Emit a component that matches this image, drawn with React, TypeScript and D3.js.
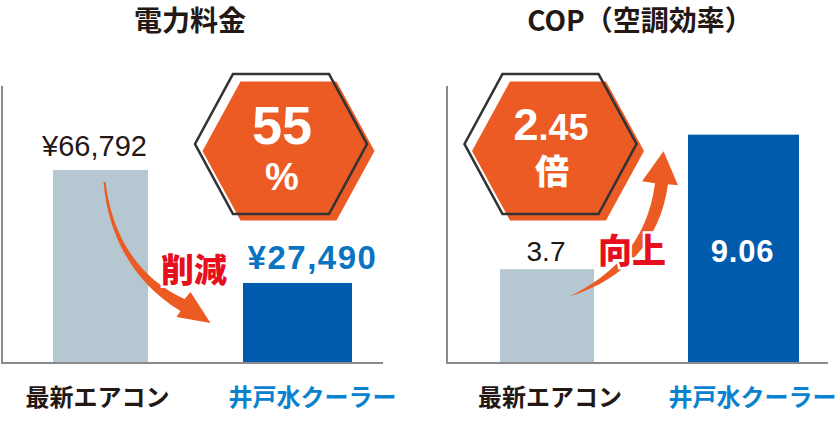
import React from "react";
import * as d3 from "d3";

// ---- data ----
const panelTitles = ["電力料金", "COP（空調効率）"];
const categories = ["最新エアコン", "井戸水クーラー"];
const costValues = [66792, 27490];
const costLabels = ["¥66,792", "¥27,490"];
const copValues = [3.7, 9.06];
const copLabels = ["3.7", "9.06"];
const badgeMain = ["55", "2.45"];
const badgeSub = ["%", "倍"];
const arrowLabels = ["削減", "向上"];

// ---- style ----
const W = 840;
const H = 432;
const BASE_Y = 362;
const TOP_Y = 86;
const GRAY = "#b5c7d0";
const BLUE = "#005bac";
const ORANGE = "#ec5b24";
const RED = "#e50f1e";
const LABEL_BLUE = "#0a82cf";
const VALUE_BLUE = "#0a74c1";
const INK = "#231815";
const NUM_FONT = "'Liberation Sans', Arial, Helvetica, sans-serif";
const JP_FONT = "'Noto Sans CJK JP', 'Noto Sans', sans-serif";

type Panel = {
  title: string;
  titleX: number;
  axisX0: number;
  axisX1: number;
  centers: [number, number];
  yMax: number;
  values: number[];
  labels: string[];
  barWidths: number[];
  catDx: number[];
};

const panels: Panel[] = [
  {
    title: panelTitles[0],
    titleX: 190,
    axisX0: 2,
    axisX1: 383,
    centers: [100.5, 297.5],
    yMax: 96000,
    values: costValues,
    labels: costLabels,
    barWidths: [95, 109],
    catDx: [-3, 15],
  },
  {
    title: panelTitles[1],
    titleX: 640,
    axisX0: 447,
    axisX1: 828,
    centers: [547, 743.5],
    yMax: 11,
    values: copValues,
    labels: copLabels,
    barWidths: [94, 111],
    catDx: [3, 9],
  },
];

function hexPath(cx: number, cy: number, hw: number, hh: number, top: number) {
  const pts: [number, number][] = [
    [cx - hw, cy],
    [cx - top, cy - hh],
    [cx + top, cy - hh],
    [cx + hw, cy],
    [cx + top, cy + hh],
    [cx - top, cy + hh],
  ];
  return d3.line()(pts.concat([pts[0]])) + "Z";
}

function Badge({ cx, cy, children }: { cx: number; cy: number; children: React.ReactNode }) {
  return (
    <g>
      <path d={hexPath(cx + 7.5, cy + 7, 86, 69.5, 48)} fill={ORANGE} />
      <path d={hexPath(cx, cy, 86, 70, 48)} fill="none" stroke="#333333" strokeWidth={2.6} strokeLinejoin="miter" />
      {children}
    </g>
  );
}

export default function App() {
  const scales = panels.map((p) => {
    const x = d3.scalePoint<string>().domain(categories).range(p.centers);
    const y = d3.scaleLinear().domain([0, p.yMax]).range([BASE_Y, TOP_Y]);
    return { x, y };
  });

  const L = scales[0];
  const R = scales[1];
  const lx0 = L.x(categories[0])!;
  const ly0 = L.y(costValues[0]);
  const lx1 = L.x(categories[1])!;
  const rx0 = R.x(categories[0])!;
  const ry0 = R.y(copValues[0]);
  const rx1 = R.x(categories[1])!;

  // left arrow (decrease), anchored to the bars
  const la = { sx: lx0 + 5, sy: ly0 + 12 };
  const leftArrow = d3.path();
  leftArrow.moveTo(la.sx, la.sy);
  leftArrow.bezierCurveTo(la.sx + 7, la.sy + 57, la.sx + 35, la.sy + 97, la.sx + 79, la.sy + 117);
  leftArrow.lineTo(la.sx + 85, la.sy + 110);
  leftArrow.lineTo(lx1 - 87, la.sy + 141);
  leftArrow.lineTo(la.sx + 71, la.sy + 135);
  leftArrow.lineTo(la.sx + 75, la.sy + 129);
  leftArrow.bezierCurveTo(la.sx + 30, la.sy + 102, la.sx + 3, la.sy + 57, la.sx - 2, la.sy);
  leftArrow.closePath();

  // right arrow (increase)
  const ra = { sx: rx0 + 23, sy: ry0 + 27 };
  const rightArrow = d3.path();
  rightArrow.moveTo(ra.sx, ra.sy);
  rightArrow.bezierCurveTo(ra.sx + 50, ra.sy - 15, ra.sx + 90, ra.sy - 52, ra.sx + 98, ra.sy - 112);
  rightArrow.lineTo(ra.sx + 108, ra.sy - 111);
  rightArrow.lineTo(rx1 - 80, ra.sy - 145);
  rightArrow.lineTo(ra.sx + 72, ra.sy - 115);
  rightArrow.lineTo(ra.sx + 85, ra.sy - 113);
  rightArrow.bezierCurveTo(ra.sx + 78, ra.sy - 57, ra.sx + 45, ra.sy - 22, ra.sx, ra.sy);
  rightArrow.closePath();

  return (
    <svg
      width={W}
      height={H}
      viewBox={`0 0 ${W} ${H}`}
      style={{ position: "fixed", left: 0, top: 0, background: "#ffffff" }}
    >
      <rect x={0} y={0} width={W} height={H} fill="#ffffff" />
      {panels.map((p, pi) => {
        const { x, y } = scales[pi];
        return (
          <g key={pi}>
            <text
              x={p.titleX}
              y={31}
              textAnchor="middle"
              fontFamily={JP_FONT}
              fontWeight={700}
              fontSize={28}
              fill={INK}
            >
              {p.title}
            </text>
            {categories.map((c, i) => {
              const cx = x(c)!;
              const bw = p.barWidths[i];
              return (
                <rect
                  key={c}
                  x={cx - bw / 2}
                  y={y(p.values[i])}
                  width={bw}
                  height={BASE_Y - y(p.values[i])}
                  fill={i === 0 ? GRAY : BLUE}
                />
              );
            })}
            <line x1={p.axisX0} x2={p.axisX0} y1={TOP_Y} y2={BASE_Y + 1} stroke="#8a8a8a" strokeWidth={2} />
            <line x1={p.axisX0 - 1} x2={p.axisX1} y1={BASE_Y + 1} y2={BASE_Y + 1} stroke="#8a8a8a" strokeWidth={2} />
            {categories.map((c, i) => (
              <text
                key={c}
                x={x(c)! + p.catDx[i]}
                y={406}
                textAnchor="middle"
                fontFamily={JP_FONT}
                fontWeight={700}
                fontSize={24}
                fill={i === 0 ? INK : LABEL_BLUE}
              >
                {c}
              </text>
            ))}
          </g>
        );
      })}

      {/* arrows */}
      <path d={leftArrow.toString()} fill={ORANGE} />
      <path d={rightArrow.toString()} fill={ORANGE} />

      {/* left value labels */}
      <text x={lx0 - 6} y={L.y(costValues[0]) - 14} textAnchor="middle" fontFamily={NUM_FONT} fontSize={29} fill={INK}>
        {costLabels[0]}
      </text>
      <text
        x={lx1 + 15}
        y={L.y(costValues[1]) - 14}
        textAnchor="middle"
        fontFamily={NUM_FONT}
        fontWeight={700}
        fontSize={33}
        letterSpacing={1.5}
        fill={VALUE_BLUE}
      >
        {costLabels[1]}
      </text>
      <text
        x={194}
        y={282}
        textAnchor="middle"
        fontFamily={JP_FONT}
        fontWeight={900}
        fontSize={33}
        fill={RED}
        stroke="#ffffff"
        strokeWidth={5}
        paintOrder="stroke"
      >
        {arrowLabels[0]}
      </text>

      {/* right value labels */}
      <text x={rx0 - 1} y={R.y(copValues[0]) - 8} textAnchor="middle" fontFamily={NUM_FONT} fontSize={28} fill={INK}>
        {copLabels[0]}
      </text>
      <text
        x={rx1 - 1}
        y={262}
        textAnchor="middle"
        fontFamily={NUM_FONT}
        fontWeight={700}
        fontSize={31}
        letterSpacing={0.8}
        fill="#ffffff"
      >
        {copLabels[1]}
      </text>
      <text
        x={632}
        y={263}
        textAnchor="middle"
        fontFamily={JP_FONT}
        fontWeight={900}
        fontSize={34}
        fill={RED}
        stroke="#ffffff"
        strokeWidth={5}
        paintOrder="stroke"
      >
        {arrowLabels[1]}
      </text>

      {/* badges */}
      <Badge cx={281} cy={144}>
        <text x={282} y={144} textAnchor="middle" fontFamily={NUM_FONT} fontWeight={700} fontSize={54} fill="#ffffff">
          {badgeMain[0]}
        </text>
        <text x={282} y={190} textAnchor="middle" fontFamily={NUM_FONT} fontWeight={700} fontSize={38} fill="#ffffff">
          {badgeSub[0]}
        </text>
      </Badge>
      <Badge cx={550.5} cy={144}>
        <text x={551} y={140} textAnchor="middle" fontFamily={NUM_FONT} fontWeight={700} fill="#ffffff">
          <tspan fontSize={45}>{badgeMain[1].slice(0, 1)}</tspan>
          <tspan fontSize={36}>{badgeMain[1].slice(1)}</tspan>
        </text>
        <text
          x={552}
          y={184}
          textAnchor="middle"
          fontFamily={JP_FONT}
          fontWeight={900}
          fontSize={34}
          fill="#ffffff"
        >
          {badgeSub[1]}
        </text>
      </Badge>
    </svg>
  );
}
